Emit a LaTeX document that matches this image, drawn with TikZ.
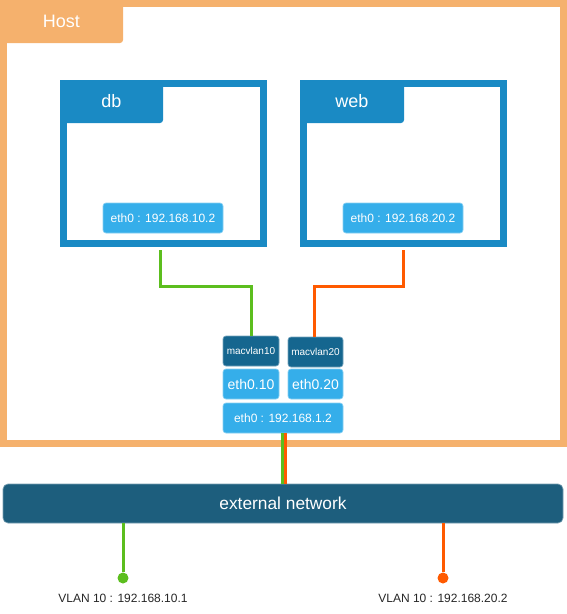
\documentclass[tikz,border=0pt]{standalone}
\usepackage{fontspec}
\setmainfont{Liberation Sans}
\usetikzlibrary{calc}

\definecolor{hostorange}{HTML}{F5B16D}
\definecolor{vmblue}{HTML}{1A8AC4}
\definecolor{ifblue}{HTML}{35AEEA}
\definecolor{macblue}{HTML}{15668F}
\definecolor{netblue}{HTML}{1D5E7D}
\definecolor{vlangreen}{HTML}{5CBE1E}
\definecolor{vlanorange}{HTML}{FF5A00}

\begin{document}
\begin{tikzpicture}
[x=0.75pt,y=-0.75pt,
hostframe/.style={draw=hostorange,line width=5.25pt,inner sep=0pt,minimum width=420pt,minimum height=330pt},
vmframe/.style={draw=vmblue,line width=5.25pt,inner sep=0pt,minimum width=150pt,minimum height=120pt},
tab/.style={rounded corners=2.25pt,inner sep=0pt,minimum height=32.25pt,text=white,font=\fontsize{13.5}{16}\selectfont},
ifbox/.style={fill=ifblue,draw=ifblue!60!white,line width=0.5pt,rounded corners=2.25pt,inner sep=0pt,minimum height=22.5pt,text=white,font=\fontsize{9}{11}\selectfont},
macbox/.style={fill=macblue,draw=macblue!60!white,line width=0.5pt,rounded corners=2.25pt,inner sep=0pt,minimum width=42pt,minimum height=22.5pt,text=white,font=\fontsize{7.5}{9}\selectfont},
wire/.style={line width=2.25pt},
point/.style={circle,inner sep=0pt,minimum size=8.25pt},
vlantext/.style={text=black!85,font=\fontsize{9}{11}\selectfont},]

\useasboundingbox (0,0) rectangle (567,614);

%Host and containers
\node[tab,fill=hostorange,minimum width=92.25pt] (hosttab) at (61.5,21.5) {Host};
\node[hostframe] (host) at (283.5,223.5) {};
\node[vmframe] (db) at (163.5,163.5) {};
\node[vmframe] (web) at (403.5,163.5) {};
\node[tab,fill=vmblue,minimum width=77.25pt] (dbtab) at (111.5,101.5) {db};
\node[tab,fill=vmblue,minimum width=78pt] (webtab) at (352,101.5) {web};

%Interfaces
\node[ifbox,minimum width=90pt] (dbeth) at (163,218) {eth0 : 192.168.10.2};
\node[ifbox,minimum width=90pt] (webeth) at (403,218) {eth0 : 192.168.20.2};
\node[macbox] (mac10) at (251,351) {macvlan10};
\node[macbox,minimum width=41.25pt] (mac20) at (315.5,352) {macvlan20};
\node[ifbox,minimum width=42pt,font=\fontsize{10.5}{12}\selectfont] (eth10) at (251,384) {eth0.10};
\node[ifbox,minimum width=41.25pt,font=\fontsize{10.5}{12}\selectfont] (eth20) at (315.5,384) {eth0.20};
\node[ifbox,minimum width=90pt] (eth0) at (283,418) {eth0 : 192.168.1.2};

%External network
\node[fill=netblue,draw=netblue!60!white,line width=0.5pt,rounded corners=3.75pt,inner sep=0pt,minimum width=420pt,minimum height=29.25pt,text=white,font=\fontsize{13}{15}\selectfont] (extnet) at (283,503.5) {external network};

%Wires
\draw[wire,vlangreen] ([xshift=-2.6pt,yshift=-2.6pt]db.south) -- ++(0,36) -| (mac10.north);
\draw[wire,vlanorange] ([yshift=-2.6pt]web.south) -- ++(0,36) -| ([xshift=-1.1pt]mac20.north);
\draw[wire,vlangreen] ([xshift=-0.75pt]eth0.south) -- ([xshift=-0.75pt]eth0.south |- extnet.north);
\draw[wire,vlanorange] ([xshift=1.5pt]eth0.south) -- ([xshift=1.5pt]eth0.south |- extnet.north);

%Gateways
\node[point,fill=vlangreen] (gw10) at (123,578) {};
\node[point,fill=vlanorange] (gw20) at (443,578) {};
\draw[wire,vlangreen] (gw10 |- extnet.south) -- (gw10);
\draw[wire,vlanorange] (gw20 |- extnet.south) -- (gw20);
\node[vlantext] (gw10text) at (123,598) {VLAN 10 : 192.168.10.1};
\node[vlantext] (gw20text) at (443,598) {VLAN 10 : 192.168.20.2};

\end{tikzpicture}
\end{document}
